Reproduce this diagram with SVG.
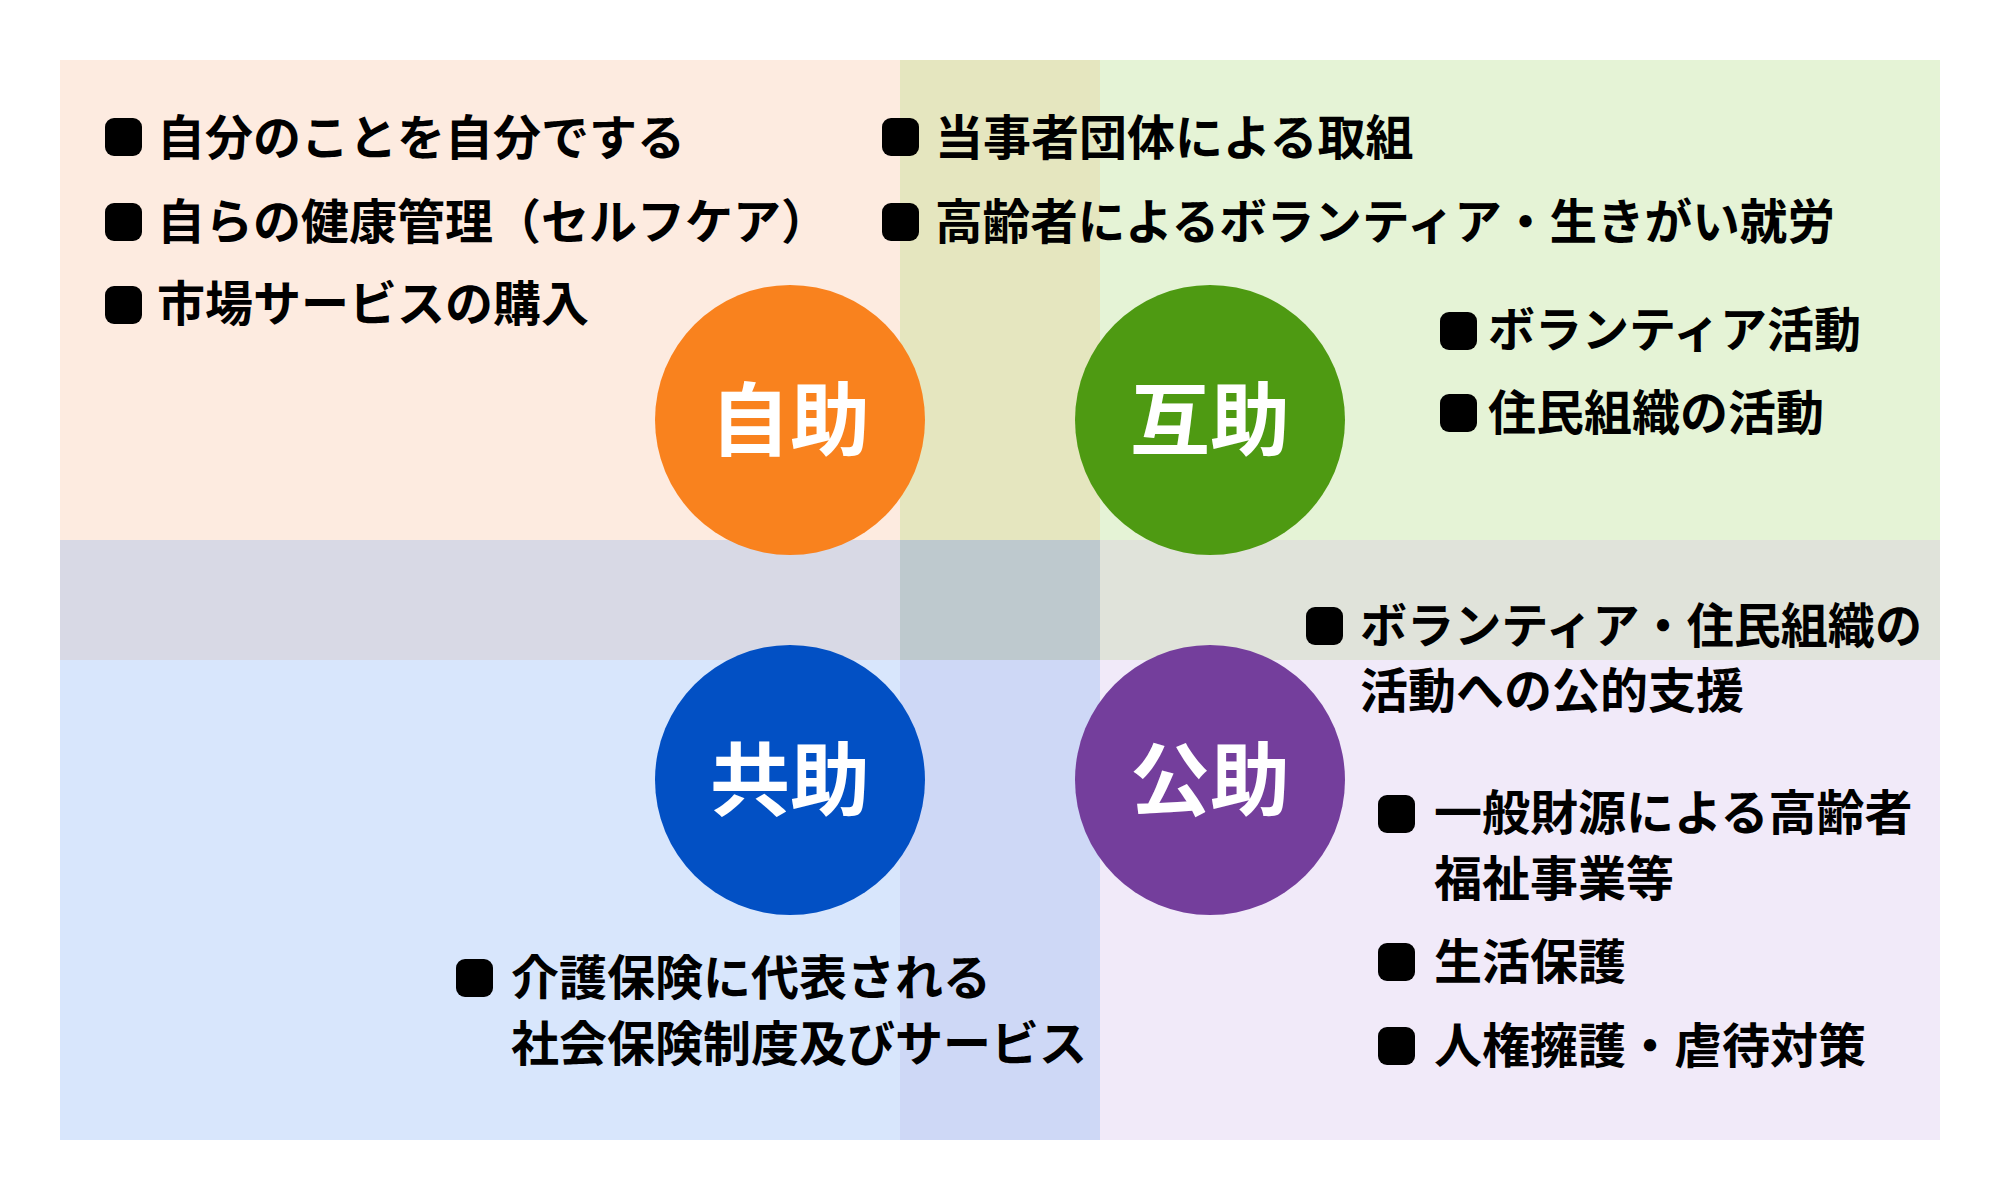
<svg xmlns="http://www.w3.org/2000/svg" width="2000" height="1200" viewBox="0 0 2000 1200">
<style>
.t{font-family:"Noto Sans CJK JP","Noto Sans CJK SC",sans-serif;font-weight:700;font-size:48px;fill:#000;}
.c{font-family:"Noto Sans CJK JP","Noto Sans CJK SC",sans-serif;font-weight:700;font-size:80px;fill:#fff;text-anchor:middle;}
.b{fill:#000;}
</style>
<defs>
<rect id="bul" width="37" height="38" rx="9" ry="9"/>
</defs>
<rect width="2000" height="1200" fill="#ffffff"/>
<g id="background">
<rect x="60" y="60" width="840" height="480" fill="#FDEBE0"/>
<rect x="900" y="60" width="200" height="480" fill="#E5E6BF"/>
<rect x="1100" y="60" width="840" height="480" fill="#E5F3D6"/>
<rect x="60" y="540" width="840" height="120" fill="#D8D9E5"/>
<rect x="900" y="540" width="200" height="120" fill="#BEC9CE"/>
<rect x="1100" y="540" width="840" height="120" fill="#E0E3DA"/>
<rect x="60" y="660" width="840" height="480" fill="#D8E6FC"/>
<rect x="900" y="660" width="200" height="480" fill="#CED8F6"/>
<rect x="1100" y="660" width="840" height="480" fill="#F1EAF9"/>
</g>
<g id="jijo">
<circle cx="790" cy="420" r="135" fill="#F9821E"/>
<text class="c" x="790" y="449">自助</text>
</g>
<g id="gojo">
<circle cx="1210" cy="420" r="135" fill="#4E9A12"/>
<text class="c" x="1210" y="449">互助</text>
</g>
<g id="kyojo">
<circle cx="790" cy="780" r="135" fill="#0250C4"/>
<text class="c" x="790" y="809">共助</text>
</g>
<g id="kojo">
<circle cx="1210" cy="780" r="135" fill="#743E9C"/>
<text class="c" x="1210" y="809">公助</text>
</g>
<g id="jijo-items">
<use href="#bul" class="b" x="105" y="118"/>
<text class="t" x="157" y="155">自分のことを自分でする</text>
<use href="#bul" class="b" x="105" y="203"/>
<text class="t" x="157" y="239">自らの健康管理（セルフケア）</text>
<use href="#bul" class="b" x="105" y="286"/>
<text class="t" x="157" y="321">市場サービスの購入</text>
</g>
<g id="gojo-items-top">
<use href="#bul" class="b" x="882" y="118"/>
<text class="t" x="935" y="155">当事者団体による取組</text>
<use href="#bul" class="b" x="882" y="203"/>
<text class="t" x="935" y="239" textLength="900" lengthAdjust="spacingAndGlyphs">高齢者によるボランティア・生きがい就労</text>
</g>
<g id="gojo-items">
<use href="#bul" class="b" x="1440" y="312"/>
<text class="t" x="1488" y="347" textLength="373" lengthAdjust="spacingAndGlyphs">ボランティア活動</text>
<use href="#bul" class="b" x="1440" y="394"/>
<text class="t" x="1488" y="430">住民組織の活動</text>
</g>
<g id="kojo-items">
<use href="#bul" class="b" x="1306" y="607"/>
<text class="t" x="1360" y="643" textLength="562" lengthAdjust="spacingAndGlyphs">ボランティア・住民組織の</text>
<text class="t" x="1360" y="708">活動への公的支援</text>
<use href="#bul" class="b" x="1378" y="795"/>
<text class="t" x="1434" y="830">一般財源による高齢者</text>
<text class="t" x="1434" y="896">福祉事業等</text>
<use href="#bul" class="b" x="1378" y="943"/>
<text class="t" x="1434" y="979">生活保護</text>
<use href="#bul" class="b" x="1378" y="1027"/>
<text class="t" x="1434" y="1063">人権擁護・虐待対策</text>
</g>
<g id="kyojo-items">
<use href="#bul" class="b" x="456" y="959"/>
<text class="t" x="511" y="995">介護保険に代表される</text>
<text class="t" x="511" y="1061">社会保険制度及びサービス</text>
</g>
</svg>
